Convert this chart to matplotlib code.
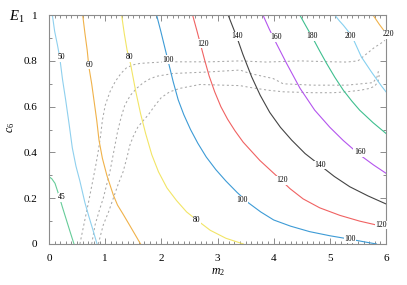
import matplotlib
matplotlib.use("Agg")
import matplotlib.pyplot as plt
from matplotlib.ticker import MultipleLocator

plt.rcParams['font.family'] = ['Liberation Serif', 'DejaVu Serif']
plt.rcParams['mathtext.fontset'] = 'custom'
plt.rcParams['mathtext.rm'] = 'Liberation Serif'
plt.rcParams['mathtext.it'] = 'Liberation Serif:italic'

# ---- contour lines (m2, c6) ----
c45_x = [0.0, 0.05, 0.107, 0.166, 0.24, 0.31, 0.38, 0.445]
c45_y = [0.294, 0.285, 0.265, 0.221, 0.16, 0.105, 0.05, 0.0]

c50_x = [0.06, 0.10, 0.15, 0.19, 0.24, 0.297, 0.36, 0.415, 0.48, 0.55, 0.64, 0.71, 0.79, 0.855]
c50_y = [1.0, 0.93, 0.87, 0.817, 0.72, 0.629, 0.52, 0.42, 0.34, 0.275, 0.18, 0.12, 0.055, 0.0]

c60_x = [0.6, 0.64, 0.68, 0.71, 0.76, 0.80, 0.85, 0.89, 0.95, 1.03, 1.145, 1.22, 1.32, 1.44, 1.54, 1.63]
c60_y = [1.0, 0.92, 0.847, 0.774, 0.70, 0.629, 0.54, 0.454, 0.375, 0.30, 0.214, 0.17, 0.13, 0.08, 0.038, 0.0]

c80_x = [1.293, 1.34, 1.39, 1.45, 1.54, 1.63, 1.72, 1.83, 1.95, 2.1, 2.27, 2.45, 2.63, 2.87, 3.15, 3.46]
c80_y = [1.0, 0.92, 0.847, 0.789, 0.672, 0.57, 0.483, 0.39, 0.315, 0.245, 0.19, 0.14, 0.105, 0.06, 0.025, 0.0]

c100_x = [1.916, 1.99, 2.06, 2.13, 2.21, 2.30, 2.40, 2.52, 2.65, 2.80, 2.97, 3.15, 3.35, 3.55, 3.77,
          4.0, 4.3, 4.64, 5.0, 5.36, 5.6, 5.83]
c100_y = [1.0, 0.93, 0.86, 0.79, 0.71, 0.63, 0.565, 0.50, 0.44, 0.38, 0.325, 0.275, 0.225, 0.18, 0.14,
          0.105, 0.078, 0.054, 0.036, 0.021, 0.01, 0.0]

c120_x = [2.557, 2.63, 2.70, 2.77, 2.85, 2.95, 3.06, 3.18, 3.31, 3.457, 3.754, 4.05, 4.29, 4.525,
          4.82, 5.18, 5.53, 5.83, 6.0]
c120_y = [1.0, 0.935, 0.87, 0.805, 0.735, 0.665, 0.60, 0.545, 0.495, 0.445, 0.365, 0.298, 0.242, 0.197,
          0.158, 0.125, 0.100, 0.083, 0.075]

c140_x = [3.19, 3.27, 3.35, 3.45, 3.607, 3.76, 3.93, 4.12, 4.32, 4.56, 4.82, 5.08, 5.356, 5.68, 6.0]
c140_y = [1.0, 0.95, 0.90, 0.83, 0.731, 0.65, 0.575, 0.51, 0.454, 0.395, 0.345, 0.295, 0.25, 0.21, 0.175]

c160_x = [3.81, 3.92, 4.04, 4.23, 4.47, 4.73, 5.0, 5.24, 5.53, 5.78, 6.0]
c160_y = [1.0, 0.94, 0.88, 0.789, 0.68, 0.585, 0.51, 0.452, 0.39, 0.345, 0.309]

c180_x = [4.466, 4.58, 4.70, 4.82, 4.94, 5.09, 5.24, 5.39, 5.53, 5.77, 6.0]
c180_y = [1.0, 0.95, 0.898, 0.843, 0.79, 0.728, 0.672, 0.625, 0.585, 0.53, 0.483]

c200_x = [5.09, 5.17, 5.24, 5.39, 5.56, 5.74, 5.92, 6.0]
c200_y = [1.0, 0.975, 0.956, 0.91, 0.818, 0.752, 0.69, 0.665]

c220_x = [5.77, 5.88, 5.98]
c220_y = [1.0, 0.96, 0.927]

# ---- dotted boundary curves ----
d1_x = [0.55, 0.60, 0.65, 0.71, 0.77, 0.83, 0.88, 0.92, 0.95, 1.0, 1.085, 1.18, 1.28, 1.38, 1.5, 1.62,
        1.80, 2.09, 2.86, 3.4, 3.87, 4.47, 5.06, 5.3, 5.5, 5.6, 5.7, 5.8, 5.9, 5.98]
d1_y = [0.0, 0.06, 0.119, 0.19, 0.265, 0.34, 0.41, 0.476, 0.54, 0.605, 0.665, 0.71, 0.745, 0.77, 0.783, 0.789,
        0.792, 0.796, 0.796, 0.80, 0.795, 0.80, 0.796, 0.795, 0.80, 0.82, 0.84, 0.86, 0.875, 0.89]

d2_x = [0.76, 0.82, 0.90, 0.966, 1.085, 1.175, 1.22, 1.28, 1.35, 1.45, 1.56, 1.68, 1.80, 1.92, 2.21,
        2.86, 3.4, 3.58, 3.99, 4.17, 4.70, 5.06, 5.3, 5.77, 5.84, 5.87]
d2_y = [0.0, 0.083, 0.15, 0.2, 0.316, 0.432, 0.49, 0.55, 0.607, 0.65, 0.68, 0.705, 0.722, 0.733, 0.745,
        0.752, 0.76, 0.745, 0.723, 0.70, 0.694, 0.694, 0.694, 0.705, 0.73, 0.76]

d3_x = [0.877, 0.966, 1.06, 1.145, 1.23, 1.32, 1.39, 1.44, 1.50, 1.58, 1.68, 1.77, 1.87, 2.0, 2.15, 2.33,
        2.69, 3.1, 3.4, 3.58, 3.9, 4.17, 4.70, 5.06, 5.3, 5.55, 5.71, 5.80, 5.86, 5.88]
d3_y = [0.0, 0.083, 0.14, 0.2, 0.26, 0.316, 0.38, 0.432, 0.47, 0.51, 0.54, 0.565, 0.60, 0.64, 0.665, 0.68,
        0.697, 0.694, 0.692, 0.684, 0.672, 0.665, 0.661, 0.661, 0.665, 0.672, 0.68, 0.69, 0.71, 0.74]

# ---- contour labels ----
label_text = ["45", "50", "60", "80", "100", "120", "140", "160", "180", "200", "220",
              "80", "100", "120", "140", "160", "120", "100"]
label_x = [0.23, 0.226, 0.717, 1.43, 2.12, 2.735, 3.35, 4.04, 4.69, 5.356, 6.04,
           2.63, 3.43, 4.14, 4.82, 5.53, 5.92, 5.36]
label_y = [0.204, 0.815, 0.782, 0.815, 0.806, 0.876, 0.908, 0.903, 0.908, 0.908, 0.916,
           0.105, 0.192, 0.279, 0.345, 0.40, 0.083, 0.022]

x_ticks = [0, 1, 2, 3, 4, 5, 6]
y_ticks = [0, 0.2, 0.4, 0.6, 0.8, 1]
y_ticklabels = ["0", "0.2", "0.4", "0.6", "0.8", "1"]

curves = [
    (c45_x, c45_y, '#66cc99'),
    (c50_x, c50_y, '#8fd0ee'),
    (c60_x, c60_y, '#f0b24a'),
    (c80_x, c80_y, '#f2e566'),
    (c100_x, c100_y, '#3d9bd6'),
    (c120_x, c120_y, '#f06262'),
    (c140_x, c140_y, '#444444'),
    (c160_x, c160_y, '#b455ee'),
    (c180_x, c180_y, '#3fbf8f'),
    (c200_x, c200_y, '#86d0f0'),
    (c220_x, c220_y, '#f0b24a'),
]

fig = plt.figure(figsize=(4.07, 2.85), dpi=100)
ax = fig.add_axes([0.1204, 0.1439, 0.828, 0.803])

for xs, ys, col in curves:
    ax.plot(xs, ys, color=col, lw=0.8, zorder=2, clip_on=True)

for xs, ys in [(d1_x, d1_y), (d2_x, d2_y), (d3_x, d3_y)]:
    ax.plot(xs, ys, color='#a8a8a8', lw=0.75, linestyle=(0, (2, 2.5)), zorder=1)

for t, x, y in zip(label_text, label_x, label_y):
    ax.text(x, y, t, fontsize=5.5, ha='center', va='center', zorder=5, clip_on=False,
            bbox=dict(facecolor='white', edgecolor='none', pad=0.3))

ax.set_xlim(0, 6)
ax.set_ylim(0, 1)
ax.set_xticks(x_ticks)
ax.set_xticklabels([str(v) for v in x_ticks])
ax.set_yticks(y_ticks)
ax.set_yticklabels(y_ticklabels)
ax.xaxis.set_minor_locator(MultipleLocator(0.1))
ax.yaxis.set_minor_locator(MultipleLocator(0.1))

gray = '#8c8c8c'
for s in ax.spines.values():
    s.set_color(gray)
    s.set_linewidth(0.8)
ax.tick_params(which='both', direction='in', top=True, right=True, color=gray, width=0.7,
               labelsize=8, labelcolor='black')
ax.tick_params(which='major', length=4)
ax.tick_params(which='minor', length=2.2)
ax.tick_params(axis='y', pad=8.5)
ax.tick_params(axis='x', pad=7)

fig.text(9 / 407, 1 - 21 / 285, r'$E_1$', fontsize=10.5, ha='left', va='baseline')
fig.text(11 / 407, 1 - 127 / 285, r'$c_6$', fontsize=8.5, ha='center', va='center', rotation=90)
fig.text(218 / 407, 1 - 272 / 285, r'$m_2$', fontsize=8.5, ha='center', va='center')

fig.savefig('out.png', dpi=100)
